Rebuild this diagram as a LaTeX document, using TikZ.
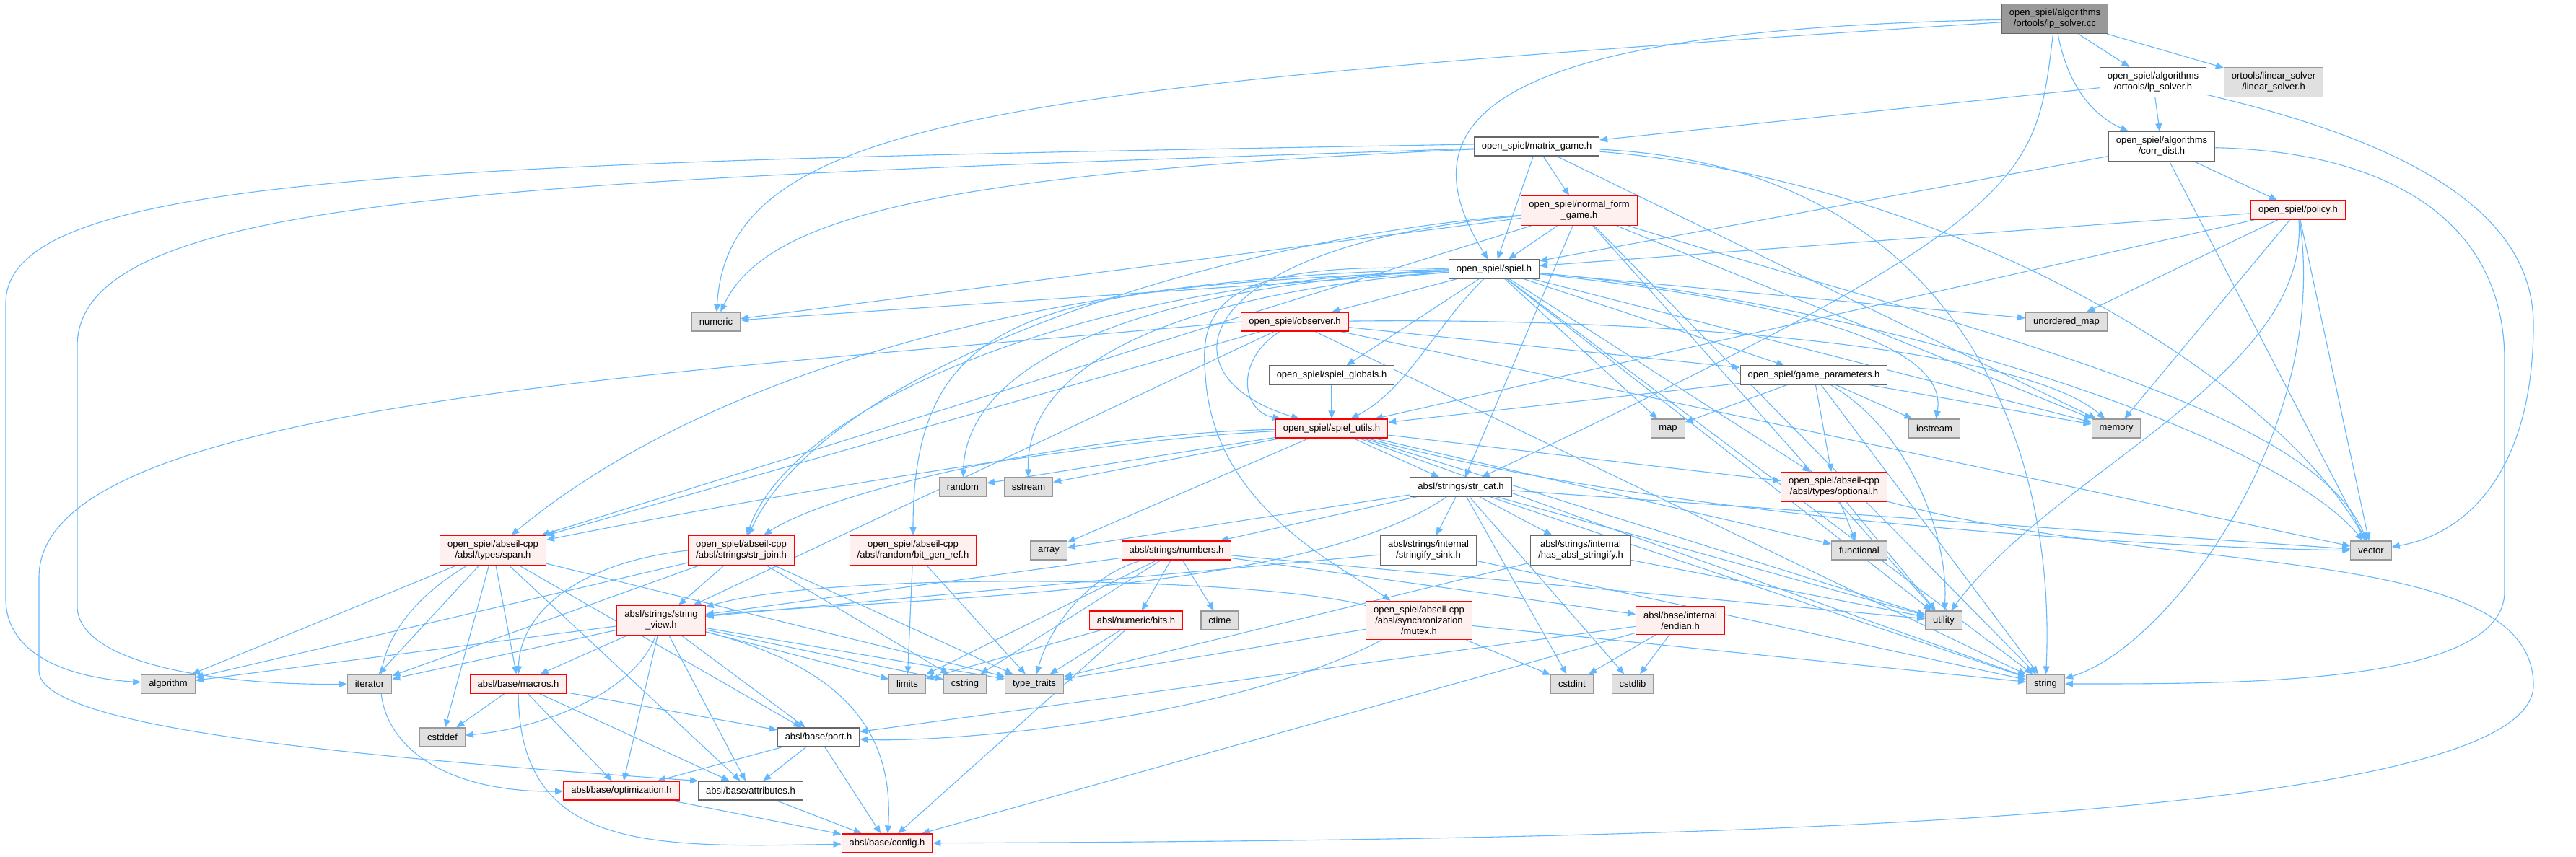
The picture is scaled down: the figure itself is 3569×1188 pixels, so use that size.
\documentclass[tikz,border=0pt]{standalone}
\usepackage{fontspec}
\setmainfont{Liberation Sans}
\usepackage{tikz}
\usetikzlibrary{arrows.meta,positioning,backgrounds}
\definecolor{edgeblue}{HTML}{63B8FF}
\definecolor{missfill}{HTML}{FFF0F0}
\definecolor{missline}{HTML}{FF0000}
\definecolor{sysfill}{HTML}{E0E0E0}
\definecolor{sysline}{HTML}{999999}
\definecolor{rootfill}{HTML}{999999}
\definecolor{boxline}{HTML}{666666}

\begin{document}
\begin{tikzpicture}[
    x=1pt, y=-1pt,
    every node/.style={align=center, font=\fontsize{13}{15}\selectfont},
    header/.style={rectangle, draw=boxline, fill=white, line width=1.1pt, inner xsep=10.5pt, inner ysep=6.9pt, minimum height=26pt},
    redhead/.style={header, draw=missline, fill=missfill},
    syshead/.style={header, draw=sysline, fill=sysfill},
    roothead/.style={header, draw=boxline, fill=rootfill},
    dep/.style={draw=edgeblue, line width=1.1pt, -{Triangle[length=11pt,width=9pt]}}
]
\useasboundingbox (0,0) rectangle (3569,1188);

% source file and the algorithm headers
\node[roothead] (lpcc) at (2847,26) {open\_spiel/algorithms\\/ortools/lp\_solver.cc};
\node[header] (lph) at (2983,114) {open\_spiel/algorithms\\/ortools/lp\_solver.h};
\node[syshead] (linsolver) at (3150,114) {ortools/linear\_solver\\/linear\_solver.h};
\node[header] (corrdist) at (2995,203) {open\_spiel/algorithms\\/corr\_dist.h};
\node[header] (matrixgame) at (2129,203) {open\_spiel/matrix\_game.h};
\node[redhead] (normalform) at (2188,292) {open\_spiel/normal\_form\\\_game.h};
\node[redhead] (policy) at (3184,291) {open\_spiel/policy.h};
\node[header] (spiel) at (2070,373) {open\_spiel/spiel.h};

% open_spiel headers
\node[syshead] (numeric) at (992,446) {numeric};
\node[redhead] (observer) at (1794,446) {open\_spiel/observer.h};
\node[syshead] (unorderedmap) at (2863,446) {unordered\_map};
\node[header] (spielglobals) at (1845,520) {open\_spiel/spiel\_globals.h};
\node[header] (gameparams) at (2513,520) {open\_spiel/game\_parameters.h};
\node[redhead] (spielutils) at (1845,594) {open\_spiel/spiel\_utils.h};
\node[syshead] (map) at (2311,594) {map};
\node[syshead] (iostream) at (2680,594) {iostream};
\node[syshead] (memory) at (2932,594) {memory};

% abseil layer
\node[syshead] (random) at (1334,675) {random};
\node[syshead] (sstream) at (1425,675) {sstream};
\node[header] (strcat) at (2024,675) {absl/strings/str\_cat.h};
\node[redhead] (optional) at (2541,675) {open\_spiel/abseil-cpp\\/absl/types/optional.h};
\node[redhead] (span) at (683,763) {open\_spiel/abseil-cpp\\/absl/types/span.h};
\node[redhead] (strjoin) at (1027,763) {open\_spiel/abseil-cpp\\/absl/strings/str\_join.h};
\node[redhead] (bitgenref) at (1265,763) {open\_spiel/abseil-cpp\\/absl/random/bit\_gen\_ref.h};
\node[syshead] (array) at (1453,763) {array};
\node[redhead] (numbers) at (1630,763) {absl/strings/numbers.h};
\node[header] (sink) at (1979,763) {absl/strings/internal\\/stringify\_sink.h};
\node[header] (hasstr) at (2190,763) {absl/strings/internal\\/has\_absl\_stringify.h};
\node[syshead] (functional) at (2576,763) {functional};
\node[syshead] (vector) at (3285,763) {vector};
\node[redhead] (stringview) at (916,860) {absl/strings/string\\\_view.h};
\node[redhead] (bits) at (1574,860) {absl/numeric/bits.h};
\node[syshead] (ctime) at (1690,860) {ctime};
\node[redhead] (mutex) at (1966,860) {open\_spiel/abseil-cpp\\/absl/synchronization\\/mutex.h};
\node[redhead] (endian) at (2328,860) {absl/base/internal\\/endian.h};
\node[syshead] (utility) at (2693,860) {utility};

% system headers and absl/base
\node[syshead] (algorithm) at (233,948) {algorithm};
\node[syshead] (iterator) at (512,948) {iterator};
\node[redhead] (macros) at (718,948) {absl/base/macros.h};
\node[syshead] (limits) at (1257,948) {limits};
\node[syshead] (cstring) at (1337,948) {cstring};
\node[syshead] (typetraits) at (1433,948) {type\_traits};
\node[syshead] (cstdint) at (2178,948) {cstdint};
\node[syshead] (cstdlib) at (2262,948) {cstdlib};
\node[syshead] (string) at (2834,948) {string};
\node[syshead] (cstddef) at (613,1022) {cstddef};
\node[header] (port) at (1134,1022) {absl/base/port.h};
\node[redhead] (optimization) at (861,1096) {absl/base/optimization.h};
\node[header] (attributes) at (1040,1096) {absl/base/attributes.h};
\node[redhead] (config) at (1229,1169) {absl/base/config.h};

\begin{scope}[on background layer]
\fill[white] (0,0) rectangle (3569,1188);

% lp_solver.cc
\foreach \dst in {lph,linsolver}
  \draw[dep] (lpcc) -- (\dst);
\draw[dep] (lpcc) .. controls (2865,120) and (2900,160) .. (corrdist);
\draw[dep] (lpcc) .. controls (1400,120) and (1010,160) .. (numeric);
\draw[dep] (lpcc) .. controls (2100,40) and (1930,150) .. (spiel);
\draw[dep] (lpcc) .. controls (2820,250) and (2820,300) .. (strcat);

% lp_solver.h
\foreach \dst in {matrixgame,corrdist}
  \draw[dep] (lph) -- (\dst);
\draw[dep] (lph) .. controls (3350,200) and (3510,300) .. (3510,450)
  .. controls (3510,650) and (3420,740) .. (vector);

% corr_dist.h
\foreach \dst in {policy,spiel,vector}
  \draw[dep] (corrdist) -- (\dst);
\draw[dep] (corrdist) .. controls (3300,210) and (3470,300) .. (3470,500)
  -- (3470,820) .. controls (3470,950) and (3100,948) .. (string);

% matrix_game.h
\foreach \dst in {spiel,normalform,memory}
  \draw[dep] (matrixgame) -- (\dst);
\draw[dep] (matrixgame) .. controls (2700,250) and (3150,520) .. (vector);
\draw[dep] (matrixgame) .. controls (2700,230) and (2850,600) .. (string);
\draw[dep] (matrixgame) .. controls (1300,240) and (1060,300) .. (numeric);
\draw[dep] ([yshift=3pt]matrixgame.west) .. controls (600,225) and (8,240) .. (8,420)
  -- (8,830) .. controls (8,910) and (100,940) .. (algorithm);
\draw[dep] ([yshift=-3pt]matrixgame.west) .. controls (700,250) and (107,270) .. (107,480)
  -- (107,840) .. controls (107,920) and (300,950) .. (iterator);

% normal_form_game.h
\foreach \dst in {spiel,numeric,span,strcat,memory,utility,string}
  \draw[dep] (normalform) -- (\dst);
\draw[dep] (normalform) .. controls (1700,330) and (1150,500) .. (strjoin);
\draw[dep] (normalform) .. controls (1650,340) and (1600,520) .. (spielutils);
\draw[dep] (normalform) .. controls (2700,450) and (3200,560) .. (vector);

% policy.h
\foreach \dst in {spiel,unorderedmap,memory,vector,spielutils}
  \draw[dep] (policy) -- (\dst);
\draw[dep] (policy) .. controls (3200,520) and (2850,650) .. (utility);
\draw[dep] (policy) .. controls (3230,600) and (3000,900) .. (string);

% spiel.h
\foreach \dst in {observer,spielglobals,gameparams,optional,numeric,unorderedmap,map,memory,string,utility}
  \draw[dep] (spiel) -- (\dst);
\draw[dep] (spiel) .. controls (1990,450) and (1950,540) .. (spielutils);
\draw[dep] (spiel) .. controls (1500,380) and (1000,500) .. (span);
\draw[dep] (spiel) .. controls (1500,390) and (1100,560) .. (strjoin);
\draw[dep] (spiel) .. controls (1450,400) and (1265,420) .. (bitgenref);
\draw[dep] (spiel.west) .. controls (1700,360) and (1660,420) .. (1670,520)
  .. controls (1680,700) and (1850,780) .. (mutex);
\draw[dep] (spiel) .. controls (2500,420) and (2700,480) .. (iostream);
\draw[dep] (spiel) .. controls (2600,420) and (3150,600) .. (vector);
\draw[dep] (spiel) .. controls (1650,390) and (1340,480) .. (random);
\draw[dep] (spiel) .. controls (1700,400) and (1420,480) .. (sstream);

% observer.h
\foreach \dst in {gameparams,span,stringview,string,vector}
  \draw[dep] (observer) -- (\dst);
\draw[dep] (observer) .. controls (2300,440) and (2800,480) .. (memory);
\draw[dep] (observer) .. controls (1710,500) and (1720,570) .. (spielutils);
\draw[dep] (observer.west) .. controls (900,520) and (54,560) .. (54,800)
  -- (54,930) .. controls (54,1010) and (500,1050) .. (attributes.north west);

% spiel_globals.h, game_parameters.h
\draw[dep] (spielglobals) -- (spielutils);
\foreach \dst in {spielutils,map,iostream,memory,optional,string}
  \draw[dep] (gameparams) -- (\dst);
\draw[dep] (gameparams) .. controls (2650,600) and (2700,750) .. (utility);

% spiel_utils.h
\foreach \dst in {random,sstream,strcat,optional,array,string,utility,functional}
  \draw[dep] (spielutils) -- (\dst);
\draw[dep] (spielutils) .. controls (1500,610) and (1000,700) .. (span);
\draw[dep] (spielutils) .. controls (1500,600) and (1150,680) .. (strjoin);
\draw[dep] (spielutils) .. controls (2300,720) and (3000,760) .. (vector);

% str_cat.h
\foreach \dst in {array,numbers,sink,hasstr,vector,string,utility,cstdint,cstdlib}
  \draw[dep] (strcat) -- (\dst);
\draw[dep] (strcat) .. controls (1800,830) and (1200,830) .. (stringview);

% numbers.h, bits.h
\foreach \dst in {bits,ctime,endian,stringview,limits,cstring,utility}
  \draw[dep] (numbers) -- (\dst);
\draw[dep] (numbers) .. controls (1500,800) and (1450,880) .. (typetraits);
\foreach \dst in {limits,typetraits,config}
  \draw[dep] (bits) -- (\dst);

% mutex.h, endian.h
\foreach \dst in {typetraits,cstdint,string}
  \draw[dep] (mutex) -- (\dst);
\draw[dep] (mutex) .. controls (1700,1000) and (1300,1030) .. (port);
\draw[dep] (mutex) .. controls (1750,800) and (1150,790) .. (stringview);
\foreach \dst in {cstdint,cstdlib,port,config}
  \draw[dep] (endian) -- (\dst);

% internal string helpers
\foreach \dst in {string,stringview}
  \draw[dep] (sink) -- (\dst);
\foreach \dst in {typetraits,utility}
  \draw[dep] (hasstr) -- (\dst);

% span.h, str_join.h, bit_gen_ref.h, optional.h
\foreach \dst in {algorithm,iterator,cstddef,macros,attributes,port,typetraits}
  \draw[dep] (span) -- (\dst);
\draw[dep] (span) .. controls (450,900) and (500,1100) .. (optimization);
\foreach \dst in {stringview,iterator,algorithm,cstring,typetraits}
  \draw[dep] (strjoin) -- (\dst);
\draw[dep] (strjoin.west) .. controls (800,780) and (720,850) .. (macros);
\foreach \dst in {limits,typetraits}
  \draw[dep] (bitgenref) -- (\dst);
\foreach \dst in {functional,utility}
  \draw[dep] (optional) -- (\dst);
\draw[dep] (optional) .. controls (3000,800) and (3510,750) .. (3510,950)
  .. controls (3510,1150) and (2200,1165) .. (config);

% string_view.h
\foreach \dst in {algorithm,iterator,macros,optimization,attributes,port,limits,cstring,typetraits}
  \draw[dep] (stringview) -- (\dst);
\draw[dep] (stringview) .. controls (880,960) and (750,1010) .. (cstddef);
\draw[dep] (stringview) .. controls (1150,920) and (1240,1000) .. (config);

% absl/base
\foreach \dst in {cstddef,port,optimization,attributes}
  \draw[dep] (macros) -- (\dst);
\draw[dep] (macros) .. controls (720,1180) and (900,1175) .. (config);
\foreach \dst in {optimization,attributes,config}
  \draw[dep] (port) -- (\dst);
\draw[dep] (optimization) -- (config);
\draw[dep] (attributes) -- (config);
\end{scope}
\end{tikzpicture}
\end{document}
